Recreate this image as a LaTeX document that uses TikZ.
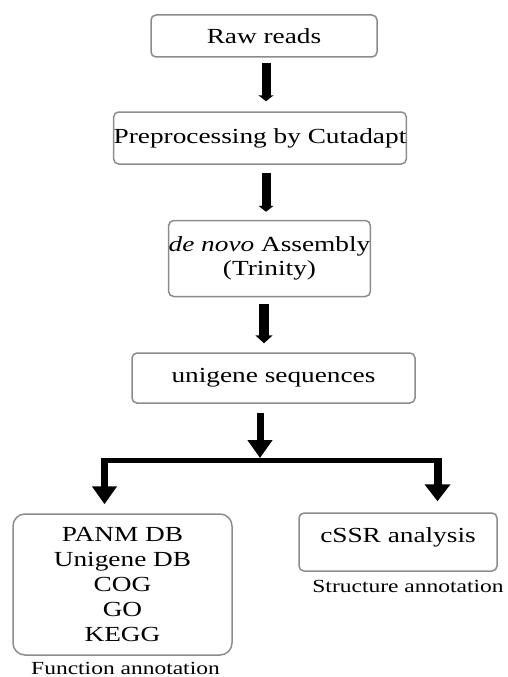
\documentclass[tikz,border=0pt]{standalone}
\usepackage{fontspec}
\setmainfont{Liberation Serif}[FakeStretch=1.27]
\usetikzlibrary{arrows.meta}
\begin{document}
\begin{tikzpicture}[x=1pt,y=-1pt,
  box/.style={draw=black!45, line width=1.5pt, rounded corners=5pt, inner sep=0pt,
    align=center, font=\fontsize{21.5}{24}\selectfont},
  note/.style={inner sep=0pt, font=\fontsize{18.5}{22}\selectfont},
  fat/.style n args={3}{line width=#1, -{Triangle[width=#2,length=#3]}}
]
\useasboundingbox (0,0) rectangle (507,677);
\node[box, minimum width=226pt, minimum height=42pt] (raw) at (264,36) {Raw reads};
\node[box, minimum width=290pt, minimum height=52pt] (pre) at (260,138) {Preprocessing by Cutadapt};
\node[box, minimum width=187pt, minimum height=76pt] (dn) at (269.5,258.5) {\textit{de novo} Assembly\\(Trinity)};
\node[box, minimum width=283pt, minimum height=50pt] (uni) at (273.5,378) {unigene sequences};
\node[box, rounded corners=12pt, minimum width=219pt, minimum height=141pt, font=\fontsize{21.5}{25}\selectfont] (func) at (122.5,584.5)
  {PANM DB\\Unigene DB\\COG\\GO\\KEGG};
\node[box, minimum width=198pt, minimum height=58pt, text height=22pt, text depth=22pt] (cssr) at (398,542) {cSSR analysis};
\node[note, anchor=base] (fa) at (125.5,674) {Function annotation};
\node[note, anchor=base] (sa) at (408,592) {Structure annotation};

\coordinate (split) at (260,460);
\coordinate (lc) at (104.5,460);
\coordinate (rc) at (437.5,460);

\draw[fat={9pt}{15pt}{6pt}] ([xshift=2pt,yshift=-5pt]raw.south) -- ([xshift=2pt,yshift=10pt]raw.south |- pre.north);
\draw[fat={9pt}{15pt}{6pt}] ([xshift=6pt,yshift=-8pt]pre.south) -- ([xshift=6pt,yshift=8pt]pre.south |- dn.north);
\draw[fat={10pt}{17pt}{8pt}] ([xshift=-5.5pt,yshift=-7pt]dn.south) -- ([xshift=-5.5pt,yshift=9pt]dn.south |- uni.north);
\draw[fat={7pt}{24pt}{18pt}] (uni.south -| split) ++(0,9) -- ([yshift=2pt]split);
\draw[line width=5pt] ([xshift=-3pt]lc) -- ([xshift=3.5pt]rc);
\draw[fat={7pt}{24pt}{18pt}] ([yshift=2.5pt]lc) -- ([yshift=9pt]lc |- func.north);
\draw[fat={8pt}{25pt}{17pt}] ([yshift=2.5pt]rc) -- ([yshift=11pt]rc |- cssr.north);
\end{tikzpicture}
\end{document}
